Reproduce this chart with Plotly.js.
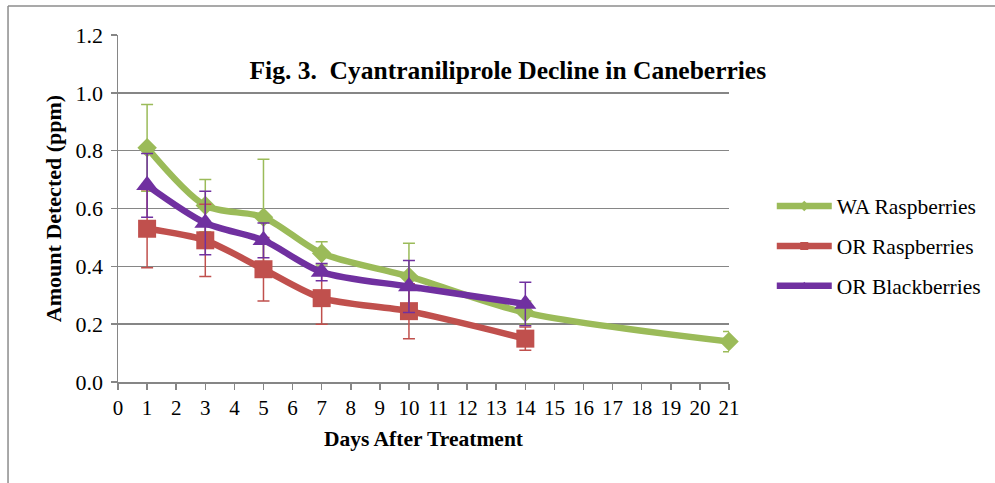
<!DOCTYPE html>
<html>
<head>
<meta charset="utf-8">
<script src="https://cdn.plot.ly/plotly-3.0.1.min.js"></script>
<style>
html,body{margin:0;padding:0;background:#fff;}
#chart{width:995px;height:483px;}
</style>
</head>
<body>
<div id="chart"></div>
<script>
// Data
const seriesNames = ["WA Raspberries", "OR Raspberries", "OR Blackberries"];
const waX = [1, 3, 5, 7, 10, 14, 21];
const waY = [0.81, 0.61, 0.57, 0.445, 0.365, 0.24, 0.14];
const waErr = [0.15, 0.09, 0.20, 0.04, 0.115, 0.04, 0.035];
const orRX = [1, 3, 5, 7, 10, 14];
const orRY = [0.53, 0.49, 0.39, 0.29, 0.245, 0.15];
const orRErr = [0.135, 0.125, 0.11, 0.09, 0.095, 0.04];
const orBX = [1, 3, 5, 7, 10, 14];
const orBY = [0.68, 0.55, 0.49, 0.38, 0.33, 0.27];
const orBErr = [0.11, 0.11, 0.06, 0.03, 0.09, 0.075];
const xTicks = [0,1,2,3,4,5,6,7,8,9,10,11,12,13,14,15,16,17,18,19,20,21];
const yTicks = [0, 0.2, 0.4, 0.6, 0.8, 1.0, 1.2];

const colors = ["#9BBB59", "#C0504D", "#7030A0"];
const symbols = ["diamond", "square", "triangle-up"];
const sizes = [15, 18, 19];
const font = "Liberation Serif, Times New Roman, serif";

const xs = [waX, orRX, orBX];
const ys = [waY, orRY, orBY];
const errs = [waErr, orRErr, orBErr];

const traces = [];
for (let i = 0; i < 3; i++) {
  traces.push({
    type: "scatter", mode: "lines+markers",
    x: xs[i], y: ys[i], name: seriesNames[i], showlegend: false,
    line: {color: colors[i], width: 6.5, shape: "spline", smoothing: 0.8},
    marker: {color: colors[i], symbol: symbols[i], size: sizes[i]},
    error_y: {type: "data", array: errs[i], visible: true, color: colors[i], thickness: 1.5, width: 6},
    cliponaxis: false
  });
}
for (let i = 0; i < 3; i++) {
  traces.push({
    type: "scatter", mode: "lines+markers",
    x: [null], y: [null], name: seriesNames[i], legendgroup: "g" + i,
    line: {color: colors[i], width: 6.5},
    marker: {color: colors[i], symbol: symbols[i], size: 8}
  });
}

const layout = {
  width: 995, height: 483,
  margin: {l: 118, r: 266, t: 35, b: 101, pad: 0, autoexpand: false},
  paper_bgcolor: "#fff", plot_bgcolor: "#fff",
  font: {family: font, size: 22, color: "#000"},
  title: {
    text: "<b>Fig. 3.  Cyantraniliprole Decline in Caneberries</b>",
    font: {family: font, size: 25.5, color: "#000"},
    xref: "paper", x: 0.638, xanchor: "center",
    yref: "container", y: 0.855, yanchor: "middle"
  },
  xaxis: {
    range: [0, 21], tickvals: xTicks, ticktext: xTicks.map(String),
    showgrid: false, zeroline: false, showline: true, linecolor: "#868686", linewidth: 1.5,
    ticks: "outside", ticklen: 6, tickcolor: "#868686", tickwidth: 1.5,
    tickfont: {family: font, size: 21, color: "#000"},
    title: {text: "<b>Days After Treatment</b>", font: {family: font, size: 21.5, color: "#000"}, standoff: 12}
  },
  yaxis: {
    range: [0, 1.2], tickvals: yTicks, ticktext: yTicks.map(v => v.toFixed(1)),
    showgrid: true, gridcolor: "#868686", gridwidth: 1.5,
    zeroline: false, showline: true, linecolor: "#868686", linewidth: 1.5,
    ticks: "outside", ticklen: 6, tickcolor: "#868686", tickwidth: 1.5,
    ticklabelstandoff: 3,
    tickfont: {family: font, size: 22, color: "#000"},
    title: {text: "<b>Amount Detected (ppm)</b>", font: {family: font, size: 22, color: "#000"}, standoff: 8}
  },
  legend: {
    x: 1.070, xanchor: "left", y: 0.392, yanchor: "middle",
    font: {family: font, size: 21.5, color: "#000"},
    itemwidth: 55, tracegroupgap: 9, bgcolor: "rgba(0,0,0,0)"
  },
  shapes: [
    {type: "line", xref: "paper", yref: "paper", x0: -0.18, x1: 1.45, y0: 1.0836, y1: 1.0836, line: {color: "#8c8c8c", width: 1.5}},
    {type: "line", xref: "paper", yref: "paper", x0: -0.18, x1: -0.18, y0: 1.0836, y1: -0.3, line: {color: "#8c8c8c", width: 1.5}}
  ]
};

Plotly.newPlot("chart", traces, layout, {displayModeBar: false, staticPlot: true});
</script>
</body>
</html>
